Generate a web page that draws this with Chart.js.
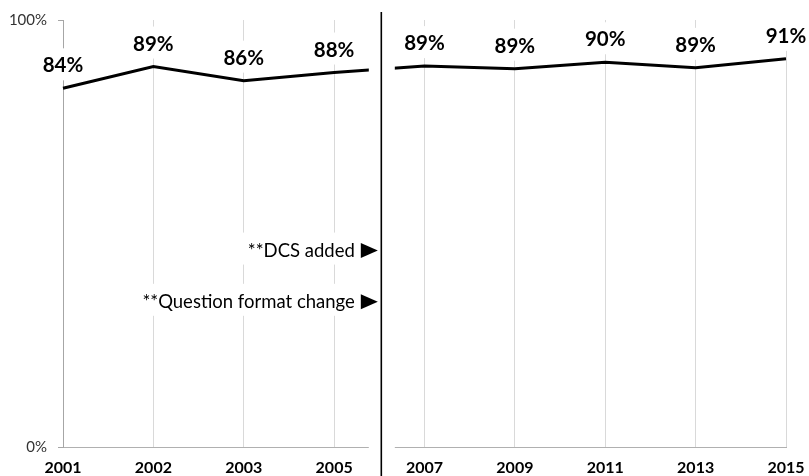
<!DOCTYPE html>
<html>
<head>
<meta charset="utf-8">
<script src="https://cdn.jsdelivr.net/npm/chart.js@4.4.1/dist/chart.umd.min.js"></script>
<style>
  html, body { margin: 0; padding: 0; background: #ffffff; }
  canvas { display: block; }
</style>
</head>
<body>
<canvas id="chart" width="809" height="476"></canvas>
<script>
// Survey years shown on the category axis
const years = ['2001', '2002', '2003', '2005', '2007', '2009', '2011', '2013', '2015'];
// Share of respondents (%) for each year
const shares = [84.0, 89.1, 85.8, 87.7, 89.2, 88.6, 90.1, 88.8, 90.9];
// Value-axis tick marks
const yTickValues = [0, 100];
// Notes placed against the series break, with the value level they sit at
const notes = ['**DCS added', '**Question format change'];
const noteLevels = [46, 34];
// The break falls between these two categories
const breakAfter = '2005';

const FONT = 'Lato, "Open Sans", "DejaVu Sans", sans-serif';
const NOTE_FONT = '18.5px ' + FONT;
const LABEL_FONT = 'bold 20.5px ' + FONT;
const pct = v => Math.round(v) + '%';

function breakCenter(x) {
  const b = years.indexOf(breakAfter);
  return (x.getPixelForValue(b) + x.getPixelForValue(b + 1)) / 2;
}

const breakPlugin = {
  id: 'seriesBreak',
  beforeDatasetsDraw(chart) {
    const { ctx, scales: { x, y } } = chart;
    ctx.save();
    ctx.fillStyle = '#ffffff';
    // white backdrops behind the value labels
    ctx.font = LABEL_FONT;
    shares.forEach((v, i) => {
      const px = x.getPixelForValue(i);
      const cy = y.getPixelForValue(v) - 23;
      const w = ctx.measureText(pct(v)).width;
      ctx.fillRect(px - w / 2 - 4, cy - 17, w + 8, 32);
    });
    // white backdrops behind the notes
    const mid = breakCenter(x);
    ctx.font = NOTE_FONT;
    notes.forEach((t, i) => {
      const cy = y.getPixelForValue(noteLevels[i]);
      const w = ctx.measureText(t).width;
      const left = mid - 24.5 - w - 8;
      ctx.fillRect(left, cy - 18, mid - 1 - left, 32);
    });
    ctx.restore();
  },
  afterDatasetsDraw(chart) {
    const { ctx, scales: { x, y }, chartArea } = chart;
    const mid = breakCenter(x);
    ctx.save();
    // gap in the series and axis
    ctx.fillStyle = '#ffffff';
    ctx.fillRect(mid - 10.5, chartArea.top - 2, 26, chartArea.bottom - chartArea.top + 4);
    // divider
    ctx.strokeStyle = '#000000';
    ctx.lineWidth = 1.6;
    ctx.beginPath();
    ctx.moveTo(mid + 2, 12);
    ctx.lineTo(mid + 2, chart.height);
    ctx.stroke();

    // notes with pointer triangles
    ctx.fillStyle = '#000000';
    ctx.font = NOTE_FONT;
    ctx.textAlign = 'right';
    ctx.textBaseline = 'alphabetic';
    notes.forEach((t, i) => {
      const cy = y.getPixelForValue(noteLevels[i]);
      ctx.fillText(t, mid - 24.5, cy + 6.5);
      ctx.beginPath();
      ctx.moveTo(mid - 18.5, cy - 7.5);
      ctx.lineTo(mid - 1.5, cy);
      ctx.lineTo(mid - 18.5, cy + 7.5);
      ctx.closePath();
      ctx.fill();
    });

    // value labels
    ctx.font = LABEL_FONT;
    ctx.textAlign = 'center';
    shares.forEach((v, i) => {
      const px = x.getPixelForValue(i);
      const py = y.getPixelForValue(v);
      ctx.fillText(pct(v), px, py - 16);
    });
    ctx.restore();
  }
};

new Chart(document.getElementById('chart'), {
  type: 'line',
  data: {
    labels: years,
    datasets: [{
      data: shares,
      borderColor: '#000000',
      borderWidth: 3,
      tension: 0,
      pointRadius: 0,
      fill: false
    }]
  },
  options: {
    responsive: false,
    animation: false,
    devicePixelRatio: 1,
    layout: { padding: { top: 20, right: 23, left: 0, bottom: 0 } },
    plugins: { legend: { display: false }, tooltip: { enabled: false } },
    scales: {
      x: {
        type: 'category',
        offset: false,
        grid: { color: '#d9d9d9', lineWidth: 1, drawTicks: false },
        border: { display: true, color: '#b0b0b0', width: 1 },
        ticks: {
          color: '#000000',
          font: { family: FONT, size: 16, weight: 'bold' },
          padding: 11,
          maxRotation: 0,
          autoSkip: false
        },
        afterFit(scale) {
          scale.height = 29;
          scale.paddingLeft = 0;
          scale.paddingRight = 0;
        }
      },
      y: {
        min: 0,
        max: 100,
        afterBuildTicks(scale) { scale.ticks = yTickValues.map(v => ({ value: v })); },
        grid: { drawOnChartArea: false, drawTicks: true, tickLength: 5, color: '#a6a6a6' },
        border: { display: true, color: '#a6a6a6', width: 1 },
        ticks: {
          color: '#333333',
          font: { family: FONT, size: 15 },
          padding: 11,
          callback: v => v + '%'
        },
        afterFit(scale) {
          scale.width = 63;
          scale.paddingTop = 0;
          scale.paddingBottom = 0;
        }
      }
    }
  },
  plugins: [breakPlugin]
});
</script>
</body>
</html>
